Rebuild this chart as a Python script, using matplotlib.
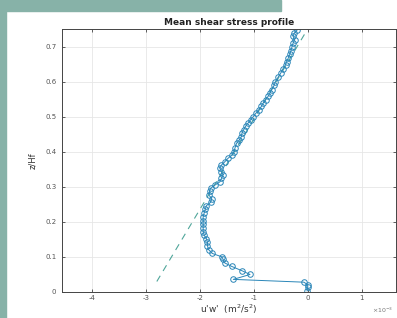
import matplotlib
matplotlib.use("Agg")
import matplotlib.pyplot as plt
from matplotlib.patches import Rectangle

# Data (u'w' in units of 1e-3 m^2/s^2, z/Hf)
z = [0.003, 0.013, 0.021, 0.028, 0.036, 0.050, 0.060, 0.073, 0.083, 0.093,
     0.100, 0.110, 0.121, 0.132, 0.142, 0.152, 0.162, 0.172, 0.183, 0.193,
     0.203, 0.214, 0.226, 0.236, 0.246, 0.256, 0.266, 0.276, 0.288, 0.296,
     0.305, 0.314, 0.324, 0.334, 0.343, 0.353, 0.362, 0.371, 0.381, 0.390,
     0.400, 0.410, 0.424, 0.433, 0.443, 0.453, 0.462, 0.473, 0.481, 0.491,
     0.500, 0.510, 0.519, 0.529, 0.538, 0.548, 0.559, 0.567, 0.576, 0.590,
     0.600, 0.612, 0.624, 0.636, 0.648, 0.657, 0.667, 0.678, 0.688, 0.700,
     0.710, 0.719, 0.729, 0.738, 0.748]
uw = [-0.01, 0.00, 0.00, -0.07, -1.38, -1.07, -1.21, -1.41, -1.54, -1.57,
      -1.59, -1.77, -1.84, -1.86, -1.86, -1.88, -1.92, -1.94, -1.94, -1.94,
      -1.94, -1.94, -1.92, -1.90, -1.88, -1.80, -1.78, -1.83, -1.82, -1.80,
      -1.72, -1.63, -1.60, -1.57, -1.60, -1.63, -1.60, -1.54, -1.48, -1.41,
      -1.37, -1.35, -1.32, -1.27, -1.23, -1.22, -1.19, -1.15, -1.11, -1.06,
      -1.01, -0.96, -0.91, -0.86, -0.83, -0.78, -0.73, -0.70, -0.67, -0.62,
      -0.60, -0.55, -0.50, -0.46, -0.41, -0.39, -0.36, -0.33, -0.31, -0.29,
      -0.27, -0.24, -0.27, -0.25, -0.19]

fit_x = [-2.8, 0.0]
fit_z = [0.03, 0.75]

xticks = [-4, -3, -2, -1, 0, 1]
yticks = [0, 0.1, 0.2, 0.3, 0.4, 0.5, 0.6, 0.7]

fig = plt.figure(figsize=(3.97, 3.18), dpi=100)
fig.patch.set_facecolor("white")
teal = "#87b2a8"
fig.patches.append(Rectangle((0, 0), 6/397, 1, transform=fig.transFigure,
                             color=teal, zorder=0))
fig.patches.append(Rectangle((0, 1 - 10.5/318), 281/397, 10.5/318,
                             transform=fig.transFigure, color=teal, zorder=0))

ax = fig.add_axes([62/397, 26/318, 334/397, 263/318])
ax.plot(fit_x, fit_z, linestyle=(0, (6, 5)), color="#4fa69a", linewidth=0.8)
ax.plot(uw, z, '-o', color="#2a86b8", linewidth=0.7, markersize=4.0,
        markerfacecolor="none", markeredgewidth=0.7)

ax.set_xlim(-4.56, 1.64)
ax.set_ylim(0, 0.75)
ax.set_xticks(xticks)
ax.set_xticklabels([str(t) for t in xticks])
ax.set_yticks(yticks)
ax.set_yticklabels(["0"] + ["%.1f" % t for t in yticks[1:]])
ax.grid(True, color="#e6e6e6", linewidth=0.6)
ax.set_axisbelow(True)
ax.tick_params(direction="in", length=2.5, width=0.6, labelsize=5,
               labelcolor="#555555", color="#444444", top=True, right=True, pad=4)
ax.tick_params(axis="x", pad=2.5)
for s in ax.spines.values():
    s.set_color("#444444")
    s.set_linewidth(0.7)

ax.set_title("Mean shear stress profile", fontsize=6.5, fontweight="bold",
             color="#222222", pad=3)
ax.set_xlabel("u'w'  (m$^2$/s$^2$)", fontsize=6.5, color="#333333")
ax.xaxis.set_label_coords(0.5, -0.04)
ax.set_ylabel("z/Hf", fontsize=6, color="#333333", labelpad=6)
fig.text(383/397, 1 - 310/318, r"$\times10^{-3}$", fontsize=4.5,
         color="#777777", ha="center", va="center")

fig.savefig("out.png", dpi=100)
